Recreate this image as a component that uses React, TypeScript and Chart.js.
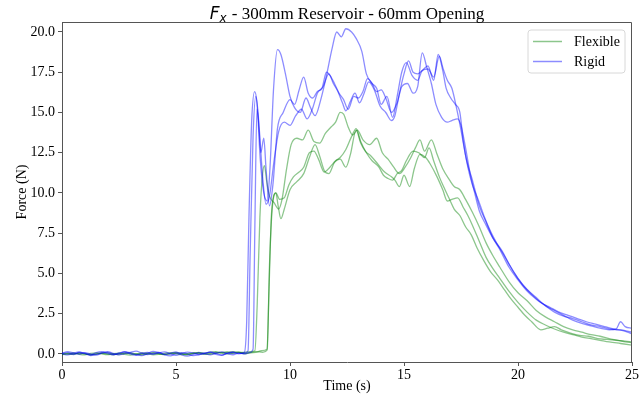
import React, { useEffect, useRef } from 'react';
import { Chart, registerables } from 'chart.js';

Chart.register(...registerables);

// ---- data ----
const noiseTimes = [0, 0.25, 0.5, 0.75, 1, 1.25, 1.5, 1.75, 2, 2.25, 2.5, 2.75, 3, 3.25, 3.5, 3.75, 4, 4.25, 4.5, 4.75, 5, 5.25, 5.5, 5.75, 6, 6.25, 6.5, 6.75, 7, 7.25, 7.5, 7.75];

const rigidANoise = [0.02, 0.08, -0.04, 0.1, 0.05, -0.06, 0.09, 0.14, 0.03, -0.05, 0.06, 0.12, 0.0, -0.08, 0.04, 0.1, -0.02, 0.07, 0.13, 0.01, -0.09, 0.03, 0.11, 0.06, -0.04, 0.02, 0.12, 0.05, -0.07, 0.04, 0.09, 0.0];
const rigidBNoise = [0.0, -0.06, 0.05, 0.12, 0.02, -0.1, -0.03, 0.08, 0.15, 0.04, -0.06, 0.02, 0.1, 0.17, 0.06, -0.04, 0.03, 0.09, -0.05, -0.12, 0.02, 0.08, 0.0, -0.1, -0.05, 0.06, 0.1, -0.02, -0.08, 0.05, 0.12, 0.03];
const rigidCNoise = [0.05, 0.15, 0.06, -0.02, 0.08, 0.0, -0.07, 0.05, 0.1, -0.03, 0.02, 0.14, 0.07, -0.05, -0.1, 0.02, 0.16, 0.08, -0.02, 0.04, 0.12, -0.06, -0.14, -0.04, 0.08, 0.02, -0.06, 0.04, 0.13, 0.02, -0.05, 0.06];
const flexANoise = [0.0, 0.03, -0.02, 0.05, 0.0, -0.04, 0.02, 0.06, -0.01, -0.05, 0.03, 0.07, 0.02, -0.03, 0.0, 0.05, 0.08, 0.02, -0.04, 0.01, 0.06, 0.0, -0.05, 0.03, 0.07, 0.02, -0.02, 0.05, 0.1, 0.12, 0.06, 0.1];
const flexBNoise = [-0.05, 0.02, 0.06, -0.02, -0.06, 0.03, 0.07, 0.0, -0.04, 0.02, 0.05, -0.03, -0.07, 0.0, 0.06, 0.02, -0.05, -0.02, 0.04, 0.08, 0.01, -0.04, 0.02, 0.07, 0.03, -0.03, 0.04, 0.09, 0.05, 0.0, 0.06, 0.1];
const flexCNoise = [0.02, -0.03, 0.0, 0.05, 0.02, -0.05, -0.02, 0.04, 0.07, 0.01, -0.04, 0.03, 0.06, 0.0, -0.05, -0.01, 0.05, 0.02, -0.03, 0.03, 0.08, 0.03, -0.02, 0.04, 0.09, 0.05, 0.12, 0.15, 0.08, 0.1, 0.14, 0.12];

const rigidATimes = [8.0, 8.1, 8.2, 8.32, 8.45, 8.55, 8.7, 8.85, 9.0, 9.12, 9.28, 9.45, 9.6, 9.8, 10.0, 10.2, 10.45, 10.7, 10.9, 11.1, 11.35, 11.6, 11.85, 12.05, 12.25, 12.45, 12.7, 12.9, 13.15, 13.35, 13.6, 13.8, 14.0, 14.25, 14.5, 14.7, 14.9, 15.1, 15.35, 15.6, 15.8, 16.05, 16.3, 16.55, 16.7, 16.9, 17.1, 17.3, 17.5, 17.75, 18.0, 18.3, 18.6, 18.9, 19.2, 19.6, 20.0, 20.4, 20.8, 21.2, 21.6, 22.0, 22.4, 22.8, 23.2, 23.6, 24.0, 24.4, 24.7, 25.0];
const rigidAValues = [0.1, 2.0, 8.5, 14.5, 16.3, 15.6, 12.0, 10.0, 9.5, 11.5, 16.5, 18.9, 18.6, 17.4, 16.0, 15.3, 15.0, 15.9, 15.3, 14.8, 15.8, 17.3, 19.0, 20.0, 19.7, 20.2, 20.0, 19.6, 18.8, 17.4, 16.8, 16.5, 15.5, 16.0, 14.7, 16.0, 17.5, 18.1, 17.3, 17.0, 17.6, 17.7, 17.2, 18.5, 17.8, 17.0, 16.5, 15.3, 13.9, 12.0, 10.8, 9.2, 8.2, 7.2, 6.5, 5.4, 4.6, 3.9, 3.4, 3.0, 2.6, 2.35, 2.2, 2.0, 1.8, 1.7, 1.55, 1.5, 1.45, 1.35];

const rigidBTimes = [8.0, 8.16, 8.25, 8.38, 8.5, 8.6, 8.72, 8.85, 8.95, 9.1, 9.25, 9.45, 9.7, 10.0, 10.2, 10.4, 10.6, 10.8, 11.0, 11.2, 11.4, 11.6, 11.8, 11.95, 12.15, 12.35, 12.55, 12.8, 13.0, 13.2, 13.4, 13.6, 13.8, 14.0, 14.2, 14.45, 14.7, 14.9, 15.15, 15.4, 15.6, 15.8, 16.0, 16.2, 16.4, 16.65, 16.9, 17.1, 17.35, 17.5, 17.7, 17.9, 18.1, 18.3, 18.6, 18.9, 19.3, 19.6, 20.0, 20.4, 20.8, 21.2, 21.6, 22.0, 22.4, 22.8, 23.2, 23.6, 24.0, 24.3, 24.5, 24.7, 25.0];
const rigidBValues = [0.05, 0.2, 6.0, 13.5, 16.0, 15.0, 12.5, 13.4, 11.5, 9.2, 10.5, 14.0, 15.0, 15.8, 15.5, 16.4, 17.2, 16.2, 15.9, 16.3, 16.5, 17.5, 17.2, 16.8, 16.2, 15.8, 15.2, 16.0, 15.9, 16.3, 17.1, 16.8, 16.3, 16.4, 15.9, 15.0, 15.6, 16.6, 16.8, 16.2, 16.6, 18.7, 17.8, 16.8, 15.5, 14.7, 14.4, 14.5, 14.6, 14.2, 12.8, 11.2, 10.0, 8.9, 8.0, 7.2, 6.4, 5.6, 4.7, 4.0, 3.5, 3.0, 2.7, 2.4, 2.1, 1.9, 1.75, 1.6, 1.5, 1.55, 2.0, 1.7, 1.6];

const rigidCTimes = [8.0, 8.25, 8.38, 8.46, 8.55, 8.65, 8.8, 8.95, 9.1, 9.3, 9.5, 9.75, 10.0, 10.25, 10.5, 10.75, 11.0, 11.2, 11.45, 11.7, 11.9, 12.1, 12.3, 12.45, 12.65, 12.85, 13.05, 13.25, 13.45, 13.7, 13.95, 14.2, 14.45, 14.6, 14.8, 15.0, 15.2, 15.4, 15.6, 15.8, 16.05, 16.3, 16.5, 16.7, 16.85, 17.05, 17.25, 17.45, 17.6, 17.8, 18.0, 18.25, 18.5, 18.8, 19.1, 19.4, 19.8, 20.2, 20.6, 21.0, 21.4, 21.8, 22.2, 22.6, 23.0, 23.4, 23.8, 24.2, 24.6, 25.0];
const rigidCValues = [0.0, 0.1, 0.3, 8.0, 15.2, 14.0, 11.0, 9.3, 9.8, 12.0, 13.8, 14.4, 14.2, 14.8, 15.2, 14.6, 15.3, 16.2, 16.6, 17.4, 16.8, 16.3, 15.6, 15.1, 15.7, 16.2, 15.6, 16.2, 16.9, 16.4, 15.4, 15.0, 14.5, 14.8, 16.2, 17.4, 18.2, 17.5, 17.4, 17.6, 17.9, 17.0, 18.6, 17.6, 16.5, 15.9, 15.5, 15.0, 13.2, 11.6, 10.5, 9.6, 8.6, 7.6, 6.8, 6.1, 5.1, 4.3, 3.7, 3.2, 2.9, 2.6, 2.4, 2.2, 2.0, 1.85, 1.7, 1.55, 1.45, 1.25];

const flexATimes = [8.0, 8.25, 8.46, 8.56, 8.68, 8.8, 8.88, 8.97, 9.1, 9.3, 9.5, 9.65, 9.85, 10.05, 10.3, 10.55, 10.8, 11.05, 11.3, 11.55, 11.8, 12.0, 12.2, 12.35, 12.55, 12.75, 12.95, 13.2, 13.5, 13.8, 14.05, 14.3, 14.55, 14.8, 15.05, 15.3, 15.5, 15.7, 15.9, 16.2, 16.45, 16.7, 17.0, 17.2, 17.45, 17.7, 18.0, 18.3, 18.6, 18.9, 19.2, 19.6, 20.0, 20.4, 20.8, 21.2, 21.6, 22.0, 22.4, 22.8, 23.2, 23.6, 24.0, 24.4, 24.7, 25.0];
const flexAValues = [0.1, 0.15, 0.2, 3.0, 8.5, 11.2, 11.7, 10.8, 9.8, 9.4, 9.0, 9.6, 11.5, 13.0, 13.4, 13.3, 13.9, 13.2, 13.1, 13.7, 14.1, 14.4, 15.0, 14.9, 14.1, 13.6, 13.9, 13.3, 13.0, 13.4, 12.5, 12.1, 11.6, 11.2, 11.6, 12.2, 12.8, 13.3, 12.6, 13.3, 12.4, 11.5, 10.8, 10.4, 10.2, 9.6, 8.8, 7.9, 6.9, 6.1, 5.4, 4.5, 3.8, 3.3, 2.7, 2.3, 2.0, 1.7, 1.5, 1.35, 1.2, 1.1, 0.95, 0.85, 0.75, 0.7];

const flexBTimes = [8.0, 8.5, 8.75, 8.99, 9.08, 9.18, 9.28, 9.38, 9.48, 9.6, 9.75, 10.0, 10.3, 10.6, 10.85, 11.1, 11.3, 11.5, 11.7, 11.95, 12.2, 12.45, 12.65, 12.9, 13.1, 13.3, 13.55, 13.85, 14.15, 14.45, 14.6, 14.8, 15.0, 15.25, 15.45, 15.7, 15.95, 16.15, 16.45, 16.7, 16.9, 17.1, 17.35, 17.6, 17.8, 18.0, 18.3, 18.6, 18.9, 19.2, 19.6, 20.0, 20.4, 20.8, 21.2, 21.6, 22.0, 22.4, 22.8, 23.2, 23.6, 24.0, 24.5, 25.0];
const flexBValues = [0.05, 0.1, 0.2, 0.3, 4.0, 8.5, 9.8, 10.0, 9.2, 8.4, 9.0, 10.2, 10.7, 11.2, 12.2, 13.0, 12.3, 11.4, 11.2, 11.9, 12.1, 11.6, 12.4, 13.9, 13.1, 12.6, 12.3, 11.8, 11.3, 11.0, 10.8, 10.4, 11.1, 10.4, 11.5, 12.4, 12.2, 11.8, 11.0, 10.2, 9.5, 9.6, 9.7, 9.1, 8.6, 8.0, 7.0, 6.0, 5.3, 4.7, 3.9, 3.2, 2.6, 2.1, 1.8, 1.55, 1.35, 1.2, 1.05, 0.95, 0.85, 0.75, 0.65, 0.55];

const flexCTimes = [8.0, 8.5, 8.8, 9.0, 9.1, 9.22, 9.38, 9.55, 9.75, 9.95, 10.15, 10.4, 10.6, 10.85, 11.05, 11.25, 11.5, 11.75, 12.0, 12.2, 12.45, 12.7, 12.9, 13.1, 13.35, 13.6, 13.9, 14.1, 14.3, 14.5, 14.7, 14.9, 15.1, 15.4, 15.65, 15.9, 16.1, 16.3, 16.55, 16.8, 17.0, 17.2, 17.45, 17.7, 17.95, 18.2, 18.5, 18.8, 19.1, 19.4, 19.7, 20.0, 20.3, 20.6, 21.0, 21.3, 21.6, 21.9, 22.3, 22.7, 23.1, 23.5, 23.9, 24.3, 24.7, 25.0];
const flexCValues = [0.0, 0.15, 0.1, 0.25, 5.5, 9.0, 10.0, 9.6, 9.7, 10.5, 11.0, 11.3, 11.6, 12.5, 12.6, 12.1, 11.3, 11.6, 12.0, 12.2, 12.7, 13.5, 14.0, 13.2, 12.5, 12.0, 11.6, 11.1, 10.9, 10.8, 11.2, 11.4, 12.0, 12.6, 12.5, 12.2, 12.8, 12.0, 11.0, 10.2, 9.6, 9.0, 8.6, 7.9, 7.4, 6.6, 5.8, 5.1, 4.6, 4.0, 3.4, 2.9, 2.4, 2.0, 1.5, 1.6, 1.7, 1.5, 1.3, 1.15, 1.1, 0.95, 0.9, 0.85, 0.8, 0.75];

const xTicks = [0, 5, 10, 15, 20, 25];
const yTicks = [0, 2.5, 5, 7.5, 10, 12.5, 15, 17.5, 20];
const legendLabels = ['Flexible', 'Rigid'];
const titleMain = ' - 300mm Reservoir - 60mm Opening';

const GREEN = 'rgba(0,128,0,0.45)';
const BLUE = 'rgba(0,0,255,0.45)';
const SERIF = '"Liberation Serif", "Times New Roman", serif';

function build(noise: number[], times: number[], values: number[]) {
  const pts = noiseTimes.map((t, i) => ({ x: t, y: noise[i] }));
  return pts.concat(times.map((t, i) => ({ x: t, y: values[i] })));
}

const overlayPlugin = {
  id: 'overlay',
  afterDraw(chart: any) {
    const { ctx, chartArea } = chart;
    const { left, right, top, bottom } = chartArea;
    ctx.save();
    // frame
    ctx.strokeStyle = '#555';
    ctx.lineWidth = 1;
    ctx.beginPath();
    ctx.moveTo(Math.round(left) + 0.5, Math.round(top) + 0.5);
    ctx.lineTo(Math.round(right) - 0.5, Math.round(top) + 0.5);
    ctx.lineTo(Math.round(right) - 0.5, Math.round(bottom) + 0.5);
    ctx.stroke();

    // title
    const cx = (left + right) / 2;
    const base = 18.5;
    ctx.fillStyle = '#000';
    ctx.textBaseline = 'alphabetic';
    ctx.font = 'italic 17px "DejaVu Sans"';
    const wF = ctx.measureText('F').width;
    ctx.font = 'italic 12px "DejaVu Sans"';
    const wx = ctx.measureText('x').width;
    ctx.font = '17px ' + SERIF;
    const wMain = ctx.measureText(titleMain).width;
    const total = wF + wx + 1 + wMain;
    let x0 = cx - total / 2;
    ctx.textAlign = 'left';
    ctx.font = 'italic 17px "DejaVu Sans"';
    ctx.fillText('F', x0, base);
    x0 += wF;
    ctx.font = 'italic 12px "DejaVu Sans"';
    ctx.fillText('x', x0, base + 3.5);
    x0 += wx + 1;
    ctx.font = '17px ' + SERIF;
    ctx.fillText(titleMain, x0, base);

    // legend
    const bx = right - 104, by = top + 8, bw = 97, bh = 43;
    ctx.fillStyle = 'rgba(255,255,255,0.8)';
    ctx.strokeStyle = '#d8d8d8';
    ctx.lineWidth = 1;
    ctx.beginPath();
    const r = 3;
    ctx.moveTo(bx + r, by);
    ctx.lineTo(bx + bw - r, by);
    ctx.quadraticCurveTo(bx + bw, by, bx + bw, by + r);
    ctx.lineTo(bx + bw, by + bh - r);
    ctx.quadraticCurveTo(bx + bw, by + bh, bx + bw - r, by + bh);
    ctx.lineTo(bx + r, by + bh);
    ctx.quadraticCurveTo(bx, by + bh, bx, by + bh - r);
    ctx.lineTo(bx, by + r);
    ctx.quadraticCurveTo(bx, by, bx + r, by);
    ctx.closePath();
    ctx.fill();
    ctx.stroke();
    const colors = [GREEN, BLUE];
    legendLabels.forEach((lab, i) => {
      const ly = by + 11.5 + i * 20;
      ctx.strokeStyle = colors[i];
      ctx.lineWidth = 1.5;
      ctx.beginPath();
      ctx.moveTo(bx + 5, ly);
      ctx.lineTo(bx + 34, ly);
      ctx.stroke();
      ctx.fillStyle = '#000';
      ctx.font = '14px ' + SERIF;
      ctx.textBaseline = 'middle';
      ctx.fillText(lab, bx + 46, ly + 0.5);
    });
    ctx.restore();
  },
};

export default function App() {
  const ref = useRef<HTMLCanvasElement | null>(null);
  useEffect(() => {
    if (!ref.current) return;
    const lineDs = (label: string, data: any[], color: string) => ({
      label,
      data,
      borderColor: color,
      backgroundColor: color,
      borderWidth: 1.3,
      pointRadius: 0,
      fill: false,
      cubicInterpolationMode: 'monotone' as const,
    });
    const chart = new Chart(ref.current, {
      type: 'line',
      data: {
        datasets: [
          lineDs('Rigid', build(rigidANoise, rigidATimes, rigidAValues), BLUE),
          lineDs('Rigid', build(rigidBNoise, rigidBTimes, rigidBValues), BLUE),
          lineDs('Rigid', build(rigidCNoise, rigidCTimes, rigidCValues), BLUE),
          lineDs('Flexible', build(flexANoise, flexATimes, flexAValues), GREEN),
          lineDs('Flexible', build(flexBNoise, flexBTimes, flexBValues), GREEN),
          lineDs('Flexible', build(flexCNoise, flexCTimes, flexCValues), GREEN),
        ],
      },
      options: {
        responsive: false,
        animation: false,
        devicePixelRatio: 1,
        layout: { padding: { top: 22, right: 10, left: 0, bottom: 0 } },
        plugins: {
          legend: { display: false },
          title: { display: false },
          tooltip: { enabled: false },
        },
        scales: {
          x: {
            type: 'linear',
            min: 0,
            max: 25,
            afterFit: (s: any) => { s.height = 37; },
            afterBuildTicks: (s: any) => { s.ticks = xTicks.map((v) => ({ value: v })); },
            ticks: {
              color: '#000',
              font: { family: SERIF, size: 14 },
              padding: 1,
              maxRotation: 0,
              callback: (v: any) => String(v),
            },
            grid: { drawOnChartArea: false, drawTicks: true, tickLength: 4, color: '#555' },
            border: { display: true, color: '#555', width: 1 },
            title: {
              display: true,
              text: 'Time (s)',
              color: '#000',
              font: { family: SERIF, size: 14 },
              padding: { top: 0, bottom: 4 },
            },
          },
          y: {
            type: 'linear',
            min: -0.5,
            max: 20.62,
            afterFit: (s: any) => { s.width = 62; },
            afterBuildTicks: (s: any) => { s.ticks = yTicks.map((v) => ({ value: v })); },
            ticks: {
              color: '#000',
              font: { family: SERIF, size: 14 },
              padding: 3,
              callback: (v: any) => Number(v).toFixed(1),
            },
            grid: { drawOnChartArea: false, drawTicks: true, tickLength: 4, color: '#555' },
            border: { display: true, color: '#555', width: 1 },
            title: {
              display: true,
              text: 'Force (N)',
              color: '#000',
              font: { family: SERIF, size: 14 },
              padding: { top: 14, bottom: 0 },
            },
          },
        },
      },
      plugins: [overlayPlugin],
    });
    return () => chart.destroy();
  }, []);
  return (
    <div style={{ position: 'absolute', left: 0, top: 0, width: 642, height: 399, background: '#fff' }}>
      <canvas ref={ref} width={642} height={399} />
    </div>
  );
}
